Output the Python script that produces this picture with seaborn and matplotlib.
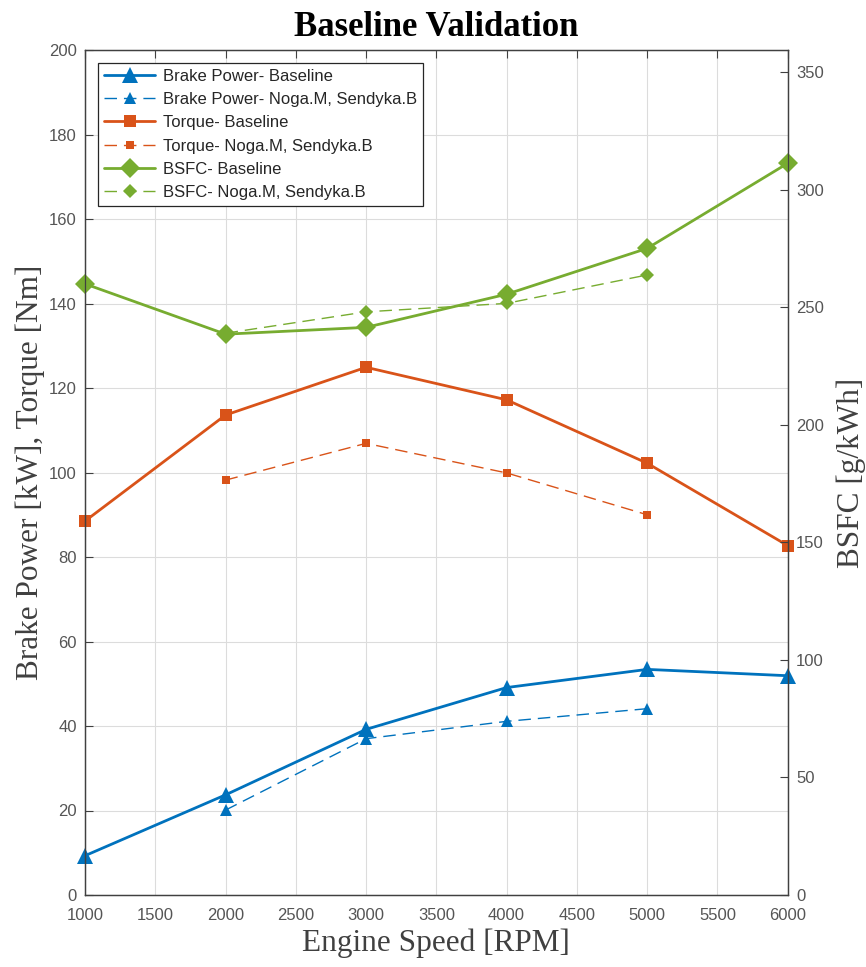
import matplotlib
matplotlib.use("Agg")
import matplotlib.pyplot as plt
import seaborn as sns
import pandas as pd

# Engine speed points
rpm = [1000, 2000, 3000, 4000, 5000, 6000]
rpm_ref = [2000, 3000, 4000, 5000]

# Baseline model results
power_base = [9.3, 23.7, 39.2, 49.1, 53.4, 51.9]
torque_base = [88.5, 113.6, 124.9, 117.2, 102.2, 82.7]
bsfc_base = [260.0, 238.6, 241.5, 255.6, 275.1, 311.3]

# Reference results (Noga.M, Sendyka.B)
power_ref = [20.1, 37.0, 41.1, 44.1]
torque_ref = [98.2, 106.9, 99.9, 90.0]
bsfc_ref = [239.0, 248.1, 251.7, 263.8]

labels = [
    "Brake Power- Baseline", "Brake Power- Noga.M, Sendyka.B",
    "Torque- Baseline", "Torque- Noga.M, Sendyka.B",
    "BSFC- Baseline", "BSFC- Noga.M, Sendyka.B",
]

BLUE, ORANGE, GREEN = "#0072BD", "#D95319", "#77AC30"
TICK_C = "#555555"
AX_C = "#404040"

sns.set_theme(style="white")
plt.rcParams["font.family"] = ["Liberation Sans", "DejaVu Sans"]

fig = plt.figure(figsize=(8.66, 9.67), dpi=100)
ax = fig.add_axes([85 / 866, 1 - 895 / 967, (787.7 - 85) / 866, (895 - 50) / 967])
ax2 = ax.twinx()

base = pd.DataFrame({"rpm": rpm, "power": power_base, "torque": torque_base, "bsfc": bsfc_base})
ref = pd.DataFrame({"rpm": rpm_ref, "power": power_ref, "torque": torque_ref, "bsfc": bsfc_ref})

dash = (9, 5)
sns.lineplot(data=base, x="rpm", y="power", ax=ax, color=BLUE, marker="^", label=labels[0],
             linewidth=2.0, markersize=11, markeredgewidth=0)
sns.lineplot(data=ref, x="rpm", y="power", ax=ax, color=BLUE, marker="^", label=labels[1],
             linewidth=1.0, markersize=8, markeredgewidth=0, dashes=dash)
sns.lineplot(data=base, x="rpm", y="torque", ax=ax, color=ORANGE, marker="s", label=labels[2],
             linewidth=2.0, markersize=8, markeredgewidth=0)
sns.lineplot(data=ref, x="rpm", y="torque", ax=ax, color=ORANGE, marker="s", label=labels[3],
             linewidth=1.0, markersize=6, markeredgewidth=0, dashes=dash)
sns.lineplot(data=base, x="rpm", y="bsfc", ax=ax2, color=GREEN, marker="D", label=labels[4],
             linewidth=2.0, markersize=10, markeredgewidth=0)
sns.lineplot(data=ref, x="rpm", y="bsfc", ax=ax2, color=GREEN, marker="D", label=labels[5],
             linewidth=1.0, markersize=7, markeredgewidth=0, dashes=dash)

for a in (ax, ax2):
    for ln in a.get_lines():
        ln.set_clip_on(False)

ax.set_xlim(1000, 6000)
ax.set_ylim(0, 200)
ax2.set_ylim(0, 359.5)
ax.set_xticks(range(1000, 6001, 500))
ax.set_yticks(range(0, 201, 20))
ax2.set_yticks(range(0, 351, 50))

ax.grid(True, color="#dcdcdc", linewidth=0.8)
ax.set_axisbelow(True)

for a in (ax, ax2):
    for s in a.spines.values():
        s.set_color(AX_C)
        s.set_linewidth(0.9)
    a.tick_params(direction="in", length=6, width=0.8, color=AX_C,
                  labelsize=12, labelcolor=TICK_C)
ax.tick_params(top=True, axis="x", pad=9)
ax.tick_params(axis="y", pad=6)
ax2.tick_params(axis="y", pad=6)

serif = ["Liberation Serif", "DejaVu Serif"]
ax.set_xlabel("Engine Speed [RPM]", family=serif, fontsize=22.5, color="#404040", labelpad=4)
ax.set_ylabel("Brake Power [kW], Torque [Nm]", family=serif, fontsize=22.5, color="#404040", labelpad=3)
ax2.set_ylabel("BSFC [g/kWh]", family=serif, fontsize=22.5, color="#404040", labelpad=9)
ax.set_title("Baseline Validation", family=serif, fontsize=25, fontweight="bold", color="black", pad=10)

h1, l1 = ax.get_legend_handles_labels()
h2, l2 = ax2.get_legend_handles_labels()
ax.get_legend().remove()
ax2.get_legend().remove()
leg = ax2.legend(h1 + h2, l1 + l2, loc="upper left", bbox_to_anchor=(0.0185, 0.985),
                 borderaxespad=0, fontsize=12, handlelength=3.1, handletextpad=0.45,
                 labelspacing=0.5, borderpad=0.35, fancybox=False, framealpha=1,
                 edgecolor="#262626")
leg.get_frame().set_linewidth(0.9)

fig.savefig("out.png", dpi=100)
